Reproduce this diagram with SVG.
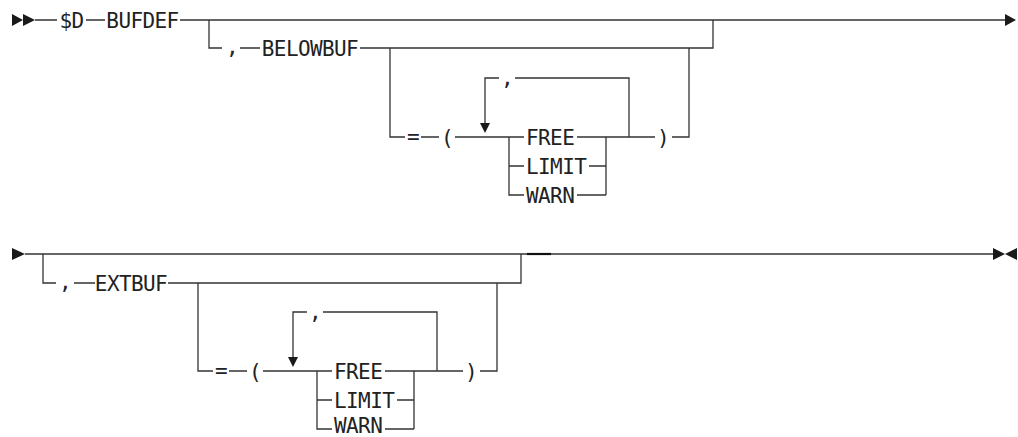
<svg xmlns="http://www.w3.org/2000/svg" width="1018" height="437" viewBox="0 0 1018 437">
<style>
.ln{fill:none;stroke:#333;stroke-width:1.3}
.ah{fill:#1a1a1a;stroke:none}
.t{font-family:"DejaVu Sans Mono","Liberation Mono",monospace;font-size:21px;letter-spacing:-0.6px;fill:#222;text-anchor:middle}
.s{text-anchor:start}
</style>
<rect width="1018" height="437" fill="#fff"/>
<g id="connectors">
<polygon class="ah" points="12,14 12,26 23,20"/>
<polygon class="ah" points="23,14 23,26 35,20"/>
<path class="ln" d="M35 20H57M86 20H105M180 20H1006"/>
<polygon class="ah" points="1005,14 1005,26 1016,20"/>
<path class="ln" d="M209 20V48H222M240 48H260M360 48H713V20"/>
<path class="ln" d="M390 48V137H405M421 137H439M455 137H524M509 137V195H524M509 166H524"/>
<path class="ln" d="M577 137H655M672 137H689V48M589 166H606M577 195H606M606 137V195"/>
<path class="ln" d="M629 137V78H515M499 78H485V123"/>
<polygon class="ah" points="480,123 490,123 485,133"/>
<polygon class="ah" points="12,248 12,260 25,254"/>
<path class="ln" d="M25 254H993"/>
<path d="M527 254H551" fill="none" stroke="#111" stroke-width="2.2"/>
<polygon class="ah" points="993,248 993,260 1005,254"/>
<polygon class="ah" points="1017,248 1017,260 1005,254"/>
<path class="ln" d="M43 254V283H56M74 283H95M168 283H521V254"/>
<path class="ln" d="M198 283V371H213M229 371H247M263 371H332M317 371V429H332M317 400H332"/>
<path class="ln" d="M385 371H463M480 371H497V283M397 400H414M385 429H414M414 371V429"/>
<path class="ln" d="M437 371V312H323M307 312H293V357"/>
<polygon class="ah" points="288,357 298,357 293,367"/>
</g>
<g id="n-sd"><text class="t" x="71.5" y="27.5">$D</text></g>
<g id="n-bufdef"><text class="t" x="142.5" y="27.5">BUFDEF</text></g>
<g id="n-comma1"><text class="t" x="232" y="54">,</text></g>
<g id="n-belowbuf"><text class="t" x="310" y="55.5">BELOWBUF</text></g>
<g id="n-eq1"><text class="t" x="413" y="144">=</text></g>
<g id="n-lp1"><text class="t" x="447" y="144.5">(</text></g>
<g id="n-rep1"><text class="t" x="507" y="85">,</text></g>
<g id="n-free1"><text class="t s" x="526" y="144.5">FREE</text></g>
<g id="n-limit1"><text class="t s" x="526" y="173.5">LIMIT</text></g>
<g id="n-warn1"><text class="t s" x="526" y="202.5">WARN</text></g>
<g id="n-rp1"><text class="t" x="663" y="144.5">)</text></g>
<g id="n-comma2"><text class="t" x="65" y="289">,</text></g>
<g id="n-extbuf"><text class="t" x="131" y="290.5">EXTBUF</text></g>
<g id="n-eq2"><text class="t" x="221" y="378">=</text></g>
<g id="n-lp2"><text class="t" x="255" y="378.5">(</text></g>
<g id="n-rep2"><text class="t" x="315" y="319">,</text></g>
<g id="n-free2"><text class="t s" x="334" y="378.5">FREE</text></g>
<g id="n-limit2"><text class="t s" x="334" y="407.5">LIMIT</text></g>
<g id="n-warn2"><text class="t s" x="334" y="433">WARN</text></g>
<g id="n-rp2"><text class="t" x="471" y="378.5">)</text></g>
</svg>
